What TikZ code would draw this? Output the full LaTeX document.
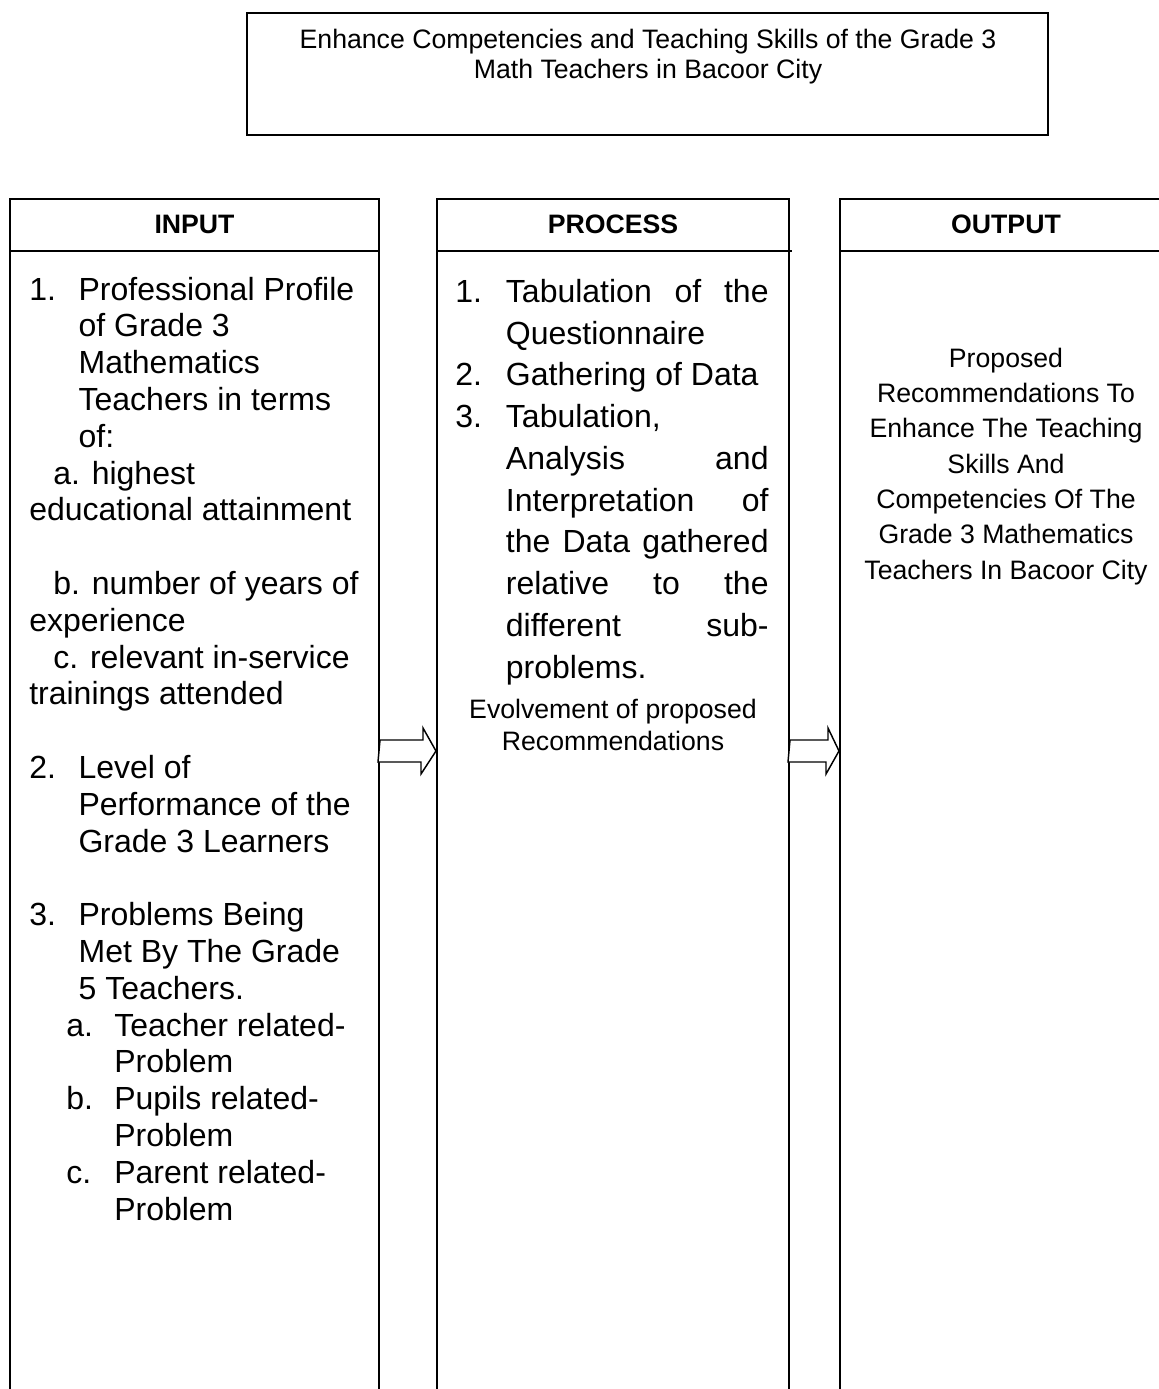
\documentclass[tikz,border=0pt]{standalone}
\usepackage{fontspec}
\setmainfont{Liberation Sans}
\usetikzlibrary{fit}
\tikzstyle{column} = [rectangle, draw=black, line width=1.5pt, inner sep=0pt]
\tikzstyle{divider} = [draw=black, line width=1.5pt]
\tikzstyle{head} = [inner sep=0pt, font=\fontsize{20}{24}\selectfont\bfseries]
\tikzstyle{bigtext} = [inner sep=0pt, align=left, anchor=base west]
\tikzstyle{smalltext} = [inner sep=0pt, align=center, anchor=base]
\tikzstyle{blockarrow} = [draw=black, line width=1.1pt, fill=white, line join=miter]

\begin{document}
\begin{tikzpicture}[x=0.75pt, y=0.75pt]
	
	\useasboundingbox (0,0) rectangle (1158,-1389);
	\fill[white] (0,0) rectangle (1158,-1389);
	
	% Boxes
	\node (goal) [column, fit={(247,-13) (1048,-135)}] {};
	\node (input) [column, fit={(10,-199) (379,-1410)}] {};
	\node (process) [column, fit={(437,-199) (789,-1410)}] {};
	\node (output) [column, fit={(840,-199) (1172,-1410)}] {};
	\draw [divider] (input.west |- 0,-251) -- (input.east |- 0,-251);
	\draw [divider] (process.west |- 0,-251) -- ([xshift=1.5pt]process.east |- 0,-251);
	\draw [divider] (output.west |- 0,-251) -- (output.east |- 0,-251);
	
	% Headings (multi-line texts are placed by their last baseline)
	\node (goaltext) [smalltext, font=\fontsize{20}{22.5}\selectfont] at (648,-78) {Enhance Competencies and Teaching Skills of the Grade 3\\Math Teachers in Bacoor City};
	\node (inhead) [head] at (input.north |- 0,-224) {INPUT};
	\node (prochead) [head] at (process.north |- 0,-224) {PROCESS};
	\node (outhead) [head] at (output.north |- 0,-224) {OUTPUT};
	
	% Input
	\node (intext) [bigtext, font=\fontsize{24}{27.6}\selectfont] at (29,-1220) {%
		\makebox[37pt][l]{1.}Professional Profile\\
		\hspace*{37pt}of Grade 3\\
		\hspace*{37pt}Mathematics\\
		\hspace*{37pt}Teachers in terms\\
		\hspace*{37pt}of:\\
		\hspace*{18pt}a. highest\\
		educational attainment\\[27.6pt]
		\hspace*{18pt}b. number of years of\\
		experience\\
		\hspace*{18pt}c. relevant in-service\\
		trainings attended\\[27.6pt]
		\makebox[37pt][l]{2.}Level of\\
		\hspace*{37pt}Performance of the\\
		\hspace*{37pt}Grade 3 Learners\\[27.6pt]
		\makebox[37pt][l]{3.}Problems Being\\
		\hspace*{37pt}Met By The Grade\\
		\hspace*{37pt}5 Teachers.\\
		\hspace*{27.75pt}\makebox[36pt][l]{a.}Teacher related-\\
		\hspace*{63.75pt}Problem\\
		\hspace*{27.75pt}\makebox[36pt][l]{b.}Pupils related-\\
		\hspace*{63.75pt}Problem\\
		\hspace*{27.75pt}\makebox[36pt][l]{c.}Parent related-\\
		\hspace*{63.75pt}Problem};
	
	% Process
	\node (proctext) [bigtext, font=\fontsize{24}{31.3}\selectfont] at (455,-678) {%
		\makebox[38pt][l]{1.}\makebox[197pt][s]{Tabulation of the}\\
		\hspace*{38pt}Questionnaire\\
		\makebox[38pt][l]{2.}Gathering of Data\\
		\makebox[38pt][l]{3.}Tabulation,\\
		\hspace*{38pt}\makebox[197pt][s]{Analysis and}\\
		\hspace*{38pt}\makebox[197pt][s]{Interpretation of}\\
		\hspace*{38pt}\makebox[197pt][s]{the Data gathered}\\
		\hspace*{38pt}\makebox[197pt][s]{relative to the}\\
		\hspace*{38pt}\makebox[197pt][s]{different sub-}\\
		\hspace*{38pt}problems.};
	\node (evolve) [smalltext, font=\fontsize{20}{24}\selectfont] at (process.north |- 0,-750) {Evolvement of proposed\\Recommendations};
	
	% Output
	\node (outtext) [smalltext, font=\fontsize{20}{26.5}\selectfont] at (output.north |- 0,-579) {Proposed\\Recommendations To\\Enhance The Teaching\\Skills And\\Competencies Of The\\Grade 3 Mathematics\\Teachers In Bacoor City};
	
	% Arrows
	\coordinate (level) at (0,-751);
	\draw [blockarrow] (input.east |- level) ++(0,11) -- ++(43,0) -- ++(0,12) -- (process.west |- level) -- ++(-15,-23) -- ++(0,12) -- ++(-43,0) -- cycle;
	\draw [blockarrow] (process.east |- level) ++(0,11) -- ++(38,0) -- ++(0,12) -- (output.west |- level) -- ++(-13,-23) -- ++(0,12) -- ++(-38,0) -- cycle;
	
\end{tikzpicture}
\end{document}
